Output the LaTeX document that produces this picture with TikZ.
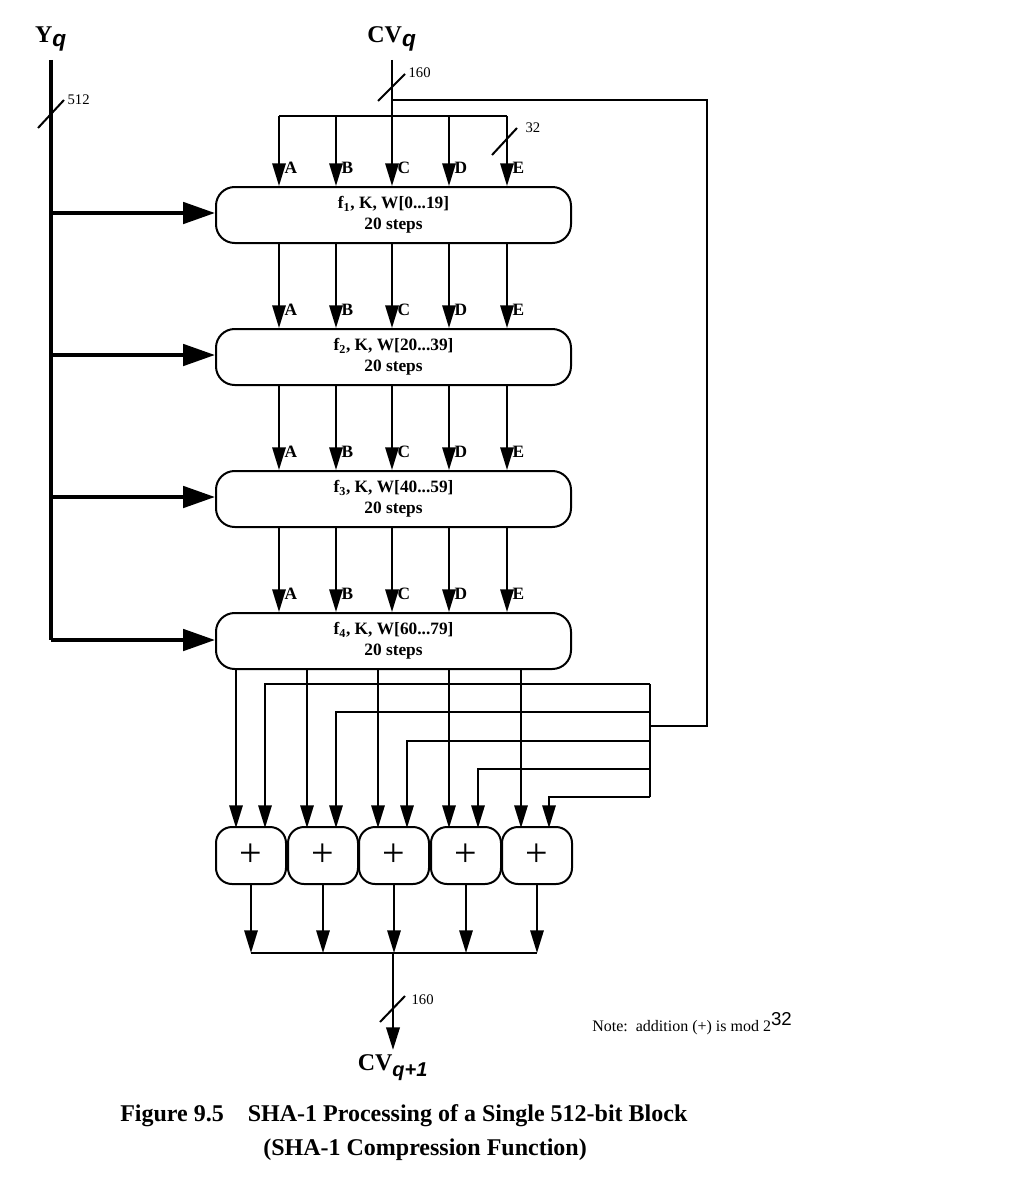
\documentclass[tikz,border=0pt]{standalone}
\usepackage{fontspec}
\setmainfont{Liberation Serif}
\newfontfamily\sansf{Liberation Sans}
\usetikzlibrary{arrows.meta}
\begin{document}
\begin{tikzpicture}[x=0.75pt,y=-0.75pt,
 ln/.style={line width=1.5pt},
 ar/.style={ln,-{Triangle[length=17pt,width=10pt]}},
 thk/.style={line width=3pt},
 tar/.style={thk,-{Triangle[length=24pt,width=16pt]}},
 rnd/.style={draw,line width=1.5pt,rounded corners=14pt,align=center,font=\bfseries\fontsize{13}{16}\selectfont,inner sep=0pt},
 lab/.style={font=\bfseries\fontsize{13}{15}\selectfont,anchor=west,inner sep=1pt},
 sm/.style={font=\fontsize{11}{13}\selectfont,anchor=west,inner sep=1pt},
 big/.style={font=\bfseries\fontsize{18}{20}\selectfont}]
\useasboundingbox (0,0) rectangle (1024,1181);
% rounds
\foreach \i/\yt/\t in {1/186/{f\textsubscript{1}, K, W[0...19]},2/328/{f\textsubscript{2}, K, W[20...39]},3/470/{f\textsubscript{3}, K, W[40...59]},4/612/{f\textsubscript{4}, K, W[60...79]}}{
 \node[rnd,minimum width=355*0.75pt,minimum height=56*0.75pt,anchor=north west] (r\i) at (215,\yt) {\t\\20 steps};
}
% Yq
\node[big,anchor=south] (yq) at (51,56) {Y\textsubscript{\sansf\itshape\fontsize{17}{17}\selectfont q}};
\coordinate (ytop) at (51,60); \coordinate (ybot) at (51,640);
\draw[thk] (ytop) -- (ybot);
\foreach \i/\y in {1/213,2/355,3/497,4/640}{ \coordinate (yb\i) at (51,\y); \draw[tar] (yb\i) -- (r\i.west|-yb\i); }
\draw[ln] (38,128) -- (64,100); \node[sm] at (66,100) {512};
% CVq
\node[big,anchor=south] (cvq) at (392,56) {CV\textsubscript{\sansf\itshape\fontsize{17}{17}\selectfont q}};
\coordinate (ctop) at (392,60); \coordinate (cbus) at (392,116);
\draw[ln] (ctop) -- (cbus);
\draw[ln] (378,101) -- (405,74); \node[sm] at (407,73) {160};
\draw[ln] (279,116) -- (507,116);
\draw[ln] (492,155) -- (517,128); \node[sm] at (524,128) {32};
\foreach \x/\L in {279/A,336/B,392/C,449/D,507/E}{
 \draw[ar] (\x,116) -- (\x,186); \node[lab] at (\x+4,168) {\L};
 \foreach \ya/\yb/\yl in {242/328/310,384/470/452,526/612/594}{ \draw[ar] (\x,\ya) -- (\x,\yb); \node[lab] at (\x+4,\yl) {\L}; }
}
% feedback
\coordinate (fb1) at (392,100); \coordinate (fb2) at (707,100); \coordinate (fb3) at (707,726); \coordinate (fb4) at (650,726);
\draw[ln] (fb1) -- (fb2) -- (fb3) -- (fb4);
\draw[ln] (650,684) -- (650,797);
% adders
\foreach \i/\x in {1/215,2/287,3/358,4/430,5/501}{
 \node[draw,line width=1.5pt,rounded corners=12pt,minimum width=70*0.75pt,minimum height=57*0.75pt,anchor=north west,inner sep=0pt,font=\fontsize{30}{30}\selectfont] (p\i) at (\x,826) {+};
}
\coordinate (bus) at (0,953);
\foreach \i/\xo/\xi/\yh in {1/236/265/684,2/307/336/712,3/378/407/741,4/449/478/769,5/521/549/797}{
 \draw[ar] (\xo,668) -- (\xo,828);
 \draw[ar] (650,\yh) -- (\xi,\yh) -- (\xi,828);
 \draw[ar] (p\i.south) -- (p\i.south|-bus);
}
\draw[ln] (p1.south|-bus) -- (p5.south|-bus);
\coordinate (ob) at (393,953);
\node[big,anchor=north] (cvq1) at (393,1050) {CV\textsubscript{\sansf\itshape\fontsize{15}{15}\selectfont q+1}};
\draw[ar,line width=2pt] (ob) -- (cvq1.north);
\draw[ln] (380,1022) -- (405,996); \node[sm] at (410,1000) {160};
\node[anchor=west,font=\fontsize{12}{14}\selectfont,inner sep=0pt] at (592,1024) {Note:\ \ addition (+) is mod 2\textsuperscript{\sansf\fontsize{14}{14}\selectfont 32}};
\node[anchor=west,font=\bfseries\fontsize{18}{22}\selectfont,inner sep=0pt] at (120,1116) {Figure 9.5\quad SHA-1 Processing of a Single 512-bit Block};
\node[anchor=west,font=\bfseries\fontsize{18}{22}\selectfont,inner sep=0pt] at (263,1150) {(SHA-1 Compression Function)};
\end{tikzpicture}
\end{document}
